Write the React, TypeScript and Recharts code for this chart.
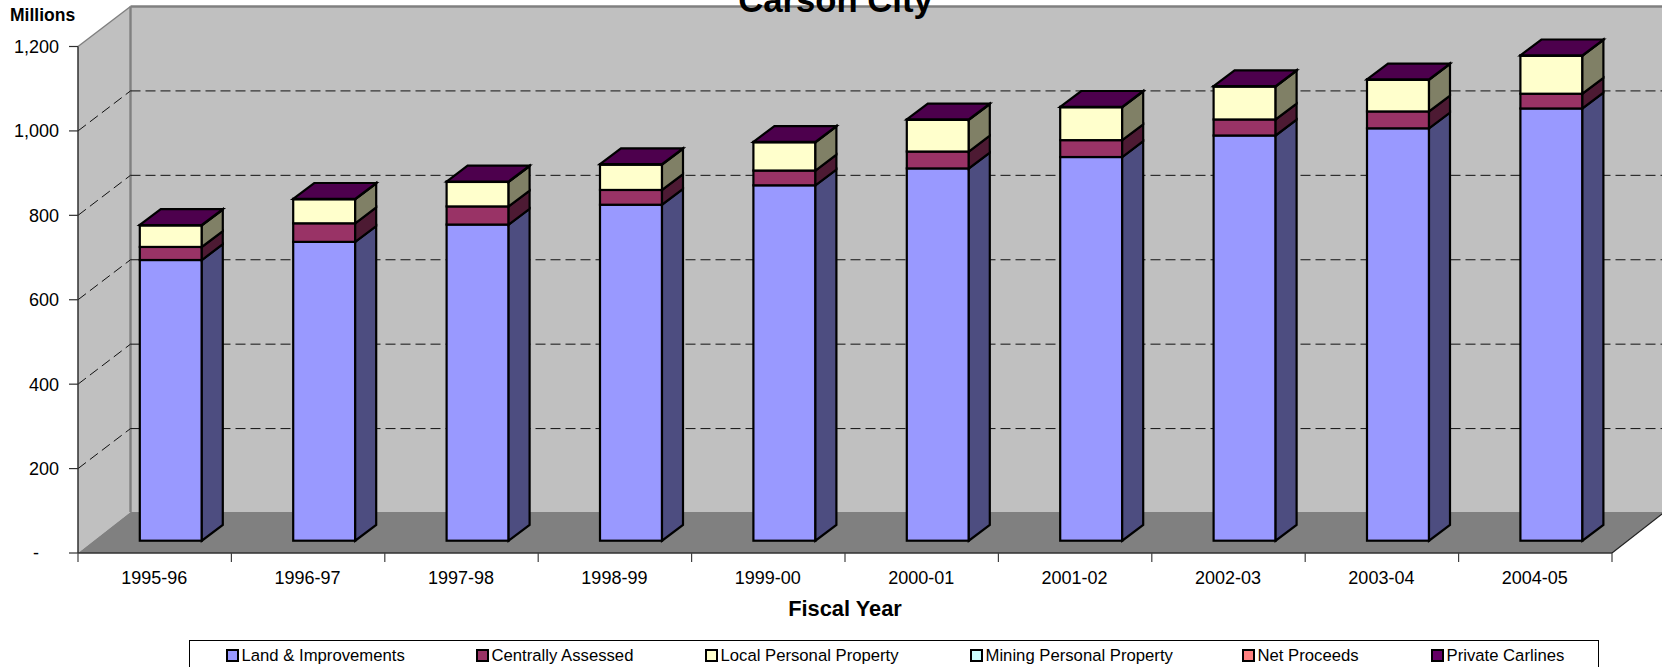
import { Bar, BarChart, CartesianGrid, Legend, XAxis, YAxis } from "recharts";

const FONT = '"Liberation Sans", Arial, sans-serif';

const categories = ["1995-96", "1996-97", "1997-98", "1998-99", "1999-00", "2000-01", "2001-02", "2002-03", "2003-04", "2004-05"];
const land = [665, 708, 749, 796, 842, 882, 909, 960, 977, 1024];
const centrallyAssessed = [31, 44, 43, 35, 35, 40, 40, 38, 40, 35];
const localPersonal = [51, 57, 58, 60, 67, 75, 78, 78, 75, 90];
const miningPersonal = [0, 0, 0, 0, 0, 0, 0, 0, 0, 0];
const netProceeds = [0, 0, 0, 0, 0, 0, 0, 0, 0, 0];
const privateCarlines = [1, 1, 1, 1, 1, 1, 1, 1, 1, 1];
const yTicks = [0, 200, 400, 600, 800, 1000, 1200];

// front colour, darker side colour
const series = [
  { key: "land", name: "Land & Improvements", color: "#9999ff", side: "#4d4d80", legendX: 226 },
  { key: "assessed", name: "Centrally Assessed", color: "#993366", side: "#4d1a33", legendX: 476 },
  { key: "local", name: "Local Personal Property", color: "#ffffcc", side: "#808066", legendX: 705 },
  { key: "mining", name: "Mining Personal Property", color: "#ccffff", side: "#668080", legendX: 970 },
  { key: "net", name: "Net Proceeds", color: "#ff8080", side: "#804040", legendX: 1242 },
  { key: "carlines", name: "Private Carlines", color: "#660066", side: "#330033", legendX: 1431 },
];

const data = categories.map((fy, i) => ({
  fy,
  land: land[i],
  assessed: centrallyAssessed[i],
  local: localPersonal[i],
  mining: miningPersonal[i],
  net: netProceeds[i],
  carlines: privateCarlines[i],
}));

const W = 1662;
const H = 667;
const LEFT = 78;
const RIGHT = 1612;
const TOP = 46.5;
const BOTTOM = 553;
// depth of the floor / side wall
const WALL_DX = 52.5;
const WALL_DY = 40;
const FLOOR_DY = 41;
// where a bar sits on the floor, and how deep it is
const BAR_DX = 15.8;
const BAR_DY = 12.3;
const DEPTH_X = 21;
const DEPTH_Y = 15.8;
const STEP = (RIGHT - LEFT) / categories.length;

function Block(props: any) {
  const { x, y, width, height, color, side, top } = props;
  if (!height) return null;
  const fx = x + BAR_DX;
  const fy = y - BAR_DY;
  const r = fx + width;
  const b = fy + height;
  const edge = { stroke: "#000", strokeWidth: 2.2, strokeLinejoin: "miter" as const };
  return (
    <g>
      <rect x={fx} y={fy} width={width} height={height} fill={color} {...edge} />
      <polygon
        points={`${r},${fy} ${r + DEPTH_X},${fy - DEPTH_Y} ${r + DEPTH_X},${b - DEPTH_Y} ${r},${b}`}
        fill={side}
        {...edge}
      />
      {top && (
        <polygon
          points={`${fx},${fy} ${fx + DEPTH_X},${fy - DEPTH_Y} ${r + DEPTH_X},${fy - DEPTH_Y} ${r},${fy}`}
          fill={top}
          {...edge}
        />
      )}
    </g>
  );
}

function GridLine(props: any) {
  const { y1 } = props;
  if (y1 < TOP + 1 || y1 > BOTTOM - 1) return <g />;
  const dash = { stroke: "#111", strokeWidth: 1, strokeDasharray: "10 5" };
  return (
    <g>
      <line x1={LEFT} y1={y1} x2={LEFT + WALL_DX} y2={y1 - WALL_DY} {...dash} />
      <line x1={LEFT + WALL_DX} y1={y1 - WALL_DY} x2={RIGHT + WALL_DX} y2={y1 - WALL_DY} {...dash} />
    </g>
  );
}

function CategoryTick(props: any) {
  const { x, payload, index } = props;
  const left = x - STEP / 2;
  const right = x + STEP / 2;
  return (
    <g>
      <line x1={left} y1={BOTTOM} x2={left} y2={BOTTOM + 9} stroke="#404040" strokeWidth={1.2} />
      {index === categories.length - 1 && (
        <line x1={right} y1={BOTTOM} x2={right} y2={BOTTOM + 9} stroke="#404040" strokeWidth={1.2} />
      )}
      <text x={x - 0.5} y={BOTTOM + 30.5} textAnchor="middle" fontSize={18} fontFamily={FONT} fill="#000">
        {payload.value}
      </text>
    </g>
  );
}

function LegendBox() {
  return (
    <div style={{ position: "relative", width: W, height: 0, fontFamily: FONT, fontSize: 16.7, color: "#000" }}>
      <div style={{ position: "absolute", left: 189, top: 0, width: 1410, height: 40, border: "1px solid #000", boxSizing: "border-box" }} />
      {series.map((s) => (
        <div key={s.key} style={{ position: "absolute", left: s.legendX, top: 9, whiteSpace: "nowrap" }}>
          <span
            style={{
              position: "absolute",
              left: 0,
              top: 0,
              width: 12.5,
              height: 12.5,
              boxSizing: "border-box",
              background: s.color,
              border: "2px solid #000",
            }}
          />
          <span style={{ position: "absolute", left: 15.5, top: -3, lineHeight: "19px" }}>{s.name}</span>
        </div>
      ))}
    </div>
  );
}

export default function App() {
  return (
    <div style={{ position: "fixed", left: 0, top: 0, width: W, height: H, overflow: "hidden", background: "#fff" }}>
      <svg width={W} height={H} style={{ position: "absolute", left: 0, top: 0 }}>
        <polygon
          points={`${LEFT},${TOP} ${LEFT + WALL_DX},${TOP - WALL_DY} ${LEFT + WALL_DX},${BOTTOM - FLOOR_DY} ${LEFT},${BOTTOM}`}
          fill="#c0c0c0"
        />
        <rect x={LEFT + WALL_DX} y={TOP - WALL_DY} width={RIGHT - LEFT} height={BOTTOM - TOP} fill="#c0c0c0" />
        <polygon
          points={`${LEFT},${BOTTOM} ${LEFT + WALL_DX},${BOTTOM - FLOOR_DY} ${RIGHT + WALL_DX},${BOTTOM - FLOOR_DY} ${RIGHT},${BOTTOM}`}
          fill="#808080"
        />
        <line x1={LEFT} y1={TOP} x2={LEFT + WALL_DX} y2={TOP - WALL_DY} stroke="#808080" strokeWidth={1.5} />
        <line x1={LEFT + WALL_DX} y1={TOP - WALL_DY} x2={LEFT + WALL_DX} y2={BOTTOM - FLOOR_DY} stroke="#808080" strokeWidth={2.4} />
        <line x1={LEFT + WALL_DX} y1={TOP - WALL_DY} x2={RIGHT + WALL_DX} y2={TOP - WALL_DY} stroke="#808080" strokeWidth={2.4} />
        <line x1={RIGHT} y1={BOTTOM} x2={RIGHT + WALL_DX} y2={BOTTOM - FLOOR_DY} stroke="#222" strokeWidth={1.2} />
        <text x={835.5} y={12} textAnchor="middle" fontFamily={FONT} fontWeight="bold" fontSize={34.7} fill="#000">
          Carson City
        </text>
        <text x={10} y={20.5} fontFamily={FONT} fontWeight="bold" fontSize={17.5} fill="#000">
          Millions
        </text>
        <text x={845} y={616} textAnchor="middle" fontFamily={FONT} fontWeight="bold" fontSize={21.8} fill="#000">
          Fiscal Year
        </text>
      </svg>
      <div style={{ position: "absolute", left: 0, top: 0 }}>
        <BarChart
          width={W}
          height={H}
          data={data}
          barSize={62}
          margin={{ top: TOP, right: W - RIGHT, bottom: H - BOTTOM - 40, left: 0 }}
          style={{ fontFamily: FONT }}
        >
          <CartesianGrid vertical={false} horizontal={(p: any) => <GridLine {...p} />} />
          <XAxis
            dataKey="fy"
            height={40}
            interval={0}
            axisLine={{ stroke: "#303030", strokeWidth: 1.5 }}
            tickLine={false}
            tick={(p: any) => <CategoryTick {...p} />}
          />
          <YAxis
            width={LEFT}
            domain={[0, 1200]}
            ticks={yTicks}
            interval={0}
            axisLine={{ stroke: "#303030", strokeWidth: 1.5 }}
            tickLine={{ stroke: "#303030", strokeWidth: 1.2 }}
            tickSize={9}
            tickMargin={10}
            tick={{ fill: "#000", fontSize: 18, fontFamily: FONT }}
            tickFormatter={(v: number) => (v === 0 ? "-\u00a0\u00a0\u00a0\u00a0" : v.toLocaleString("en-US"))}
          />
          {series.map((s) => (
            <Bar
              key={s.key}
              dataKey={s.key}
              name={s.name}
              stackId="total"
              fill={s.color}
              isAnimationActive={false}
              shape={(p: any) => (
                <Block {...p} color={s.color} side={s.side} top={s.key === "carlines" ? "#4d004d" : undefined} />
              )}
            />
          ))}
          <Legend
            content={() => <LegendBox />}
            wrapperStyle={{ position: "absolute", left: 0, top: 640, width: W, height: 0 }}
          />
        </BarChart>
      </div>
    </div>
  );
}
